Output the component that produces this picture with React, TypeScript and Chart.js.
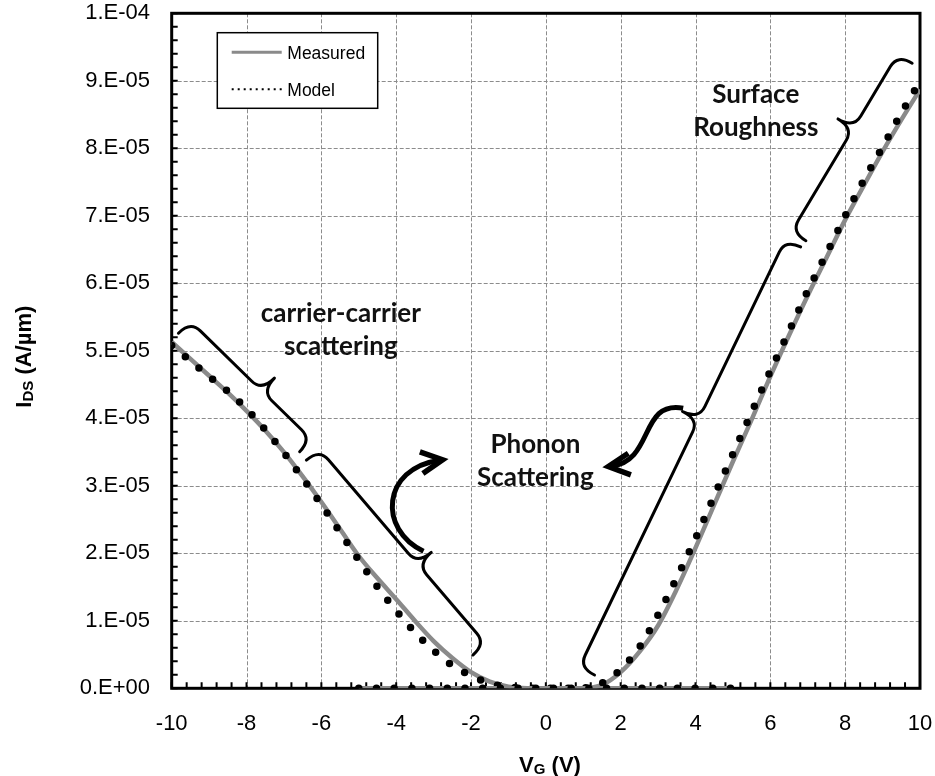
import React, { useEffect, useRef } from 'react';
import { Chart, registerables } from 'chart.js';

Chart.register(...registerables);

// Gate voltage sweep (V)
const VG = [
  -10, -9.5, -9, -8.5, -8, -7.5, -7, -6.5, -6, -5.5,
  -5, -4.5, -4, -3.5, -3, -2.5, -2, -1.5, -1, -0.5,
  0, 0.5, 1, 1.5, 2, 2.5, 3, 3.5, 4, 4.5,
  5, 5.5, 6, 6.5, 7, 7.5, 8, 8.5, 9, 9.5, 10,
];

// Drain current, µA/µm (axis labels are shown in A/µm)
const IDS_MEASURED = [
  51.3, 48.8, 46.3, 43.8, 41.1, 38.2, 35.0, 31.4, 27.6, 23.6,
  19.6, 16.3, 13.2, 10.0, 7.0, 4.5, 2.4, 1.0, 0.25, 0.02,
  0, 0, 0.02, 0.5, 2.4, 5.4, 9.3, 14.7, 20.8, 27.2,
  33.6, 39.8, 46.2, 52.3, 58.2, 63.8, 69.4, 74.5, 79.5, 84.2, 88.7,
];

const IDS_MODEL = [
  50.8, 48.5, 46.2, 44.0, 41.4, 38.3, 34.9, 31.1, 27.2, 23.1,
  19.0, 15.0, 11.5, 8.3, 5.6, 3.4, 1.85, 0.75, 0.2, 0.03,
  0, 0, 0.05, 0.75, 2.8, 6.1, 10.9, 16.4, 22.2, 28.5,
  34.7, 40.9, 47.0, 52.9, 58.9, 64.4, 70.0, 75.3, 80.2, 85.2, 89.9,
];

// Off-state branch lying on the zero line
const VG_FLAT = [-5, 5];
const IDS_FLAT = [0, 0];

// Axis ranges and tick steps
const X_MIN = -10;
const X_MAX = 10;
const X_STEP = 2;
const X_MINOR = 0.4;
const Y_MIN = 0;
const Y_MAX = 100;
const Y_STEP = 10;
const Y_MINOR = 2;

// Legend entries
const LEGEND_ITEMS = ['Measured', 'Model'];

// Annotation braces: ends in (V, µA/µm), tip position as fraction of length
const BRACES = [
  { from: [-9.82, 52.6], to: [-6.58, 35.05], tip: 0.59 },
  { from: [-6.4, 33.8], to: [-1.95, 4.93], tip: 0.59 },
  { from: [1.3, 1.97], to: [6.81, 65.4], tip: 0.58 },
  { from: [6.95, 66.3], to: [9.79, 92.6], tip: 0.585 },
];

// Curved arrows as cubic Bézier control points in (V, µA/µm)
const ARROWS = [
  [[-3.27, 20.3], [-4.49, 23.5], [-4.39, 32.6], [-2.84, 33.8]],
  [[3.67, 41.5], [2.5, 42.7], [2.9, 33.67], [1.75, 32.9]],
];

// Region labels, centred at (V, µA/µm)
const LABELS = [
  { lines: ['carrier-carrier', 'scattering'], at: [-5.48, 53.1] },
  { lines: ['Phonon', 'Scattering'], at: [-0.28, 33.6] },
  { lines: ['Surface', 'Roughness'], at: [5.61, 85.5] },
];

const GRAY = '#8a8a8a';
const GRID = '#8c8c8c';
const AXIS_FONT = '"Liberation Sans", Arial, Helvetica, sans-serif';
const NOTE_FONT = 'Lato, "Open Sans", sans-serif';

const toXY = (xs: number[], ys: number[]) => xs.map((x, i) => ({ x, y: ys[i] }));

// 30 -> "3.E-05", 0 -> "0.E+00"
function sciLabel(v: number): string {
  const a = v * 1e-6;
  if (Math.abs(a) < 1e-12) return '0.E+00';
  const e = Math.floor(Math.log10(a) + 1e-9);
  const m = Math.round(a / Math.pow(10, e));
  return `${m}.E${e < 0 ? '-' : '+'}${String(Math.abs(e)).padStart(2, '0')}`;
}

function drawBrace(ctx: CanvasRenderingContext2D, ax: number, ay: number, bx: number, by: number, frac: number) {
  const L = Math.hypot(bx - ax, by - ay);
  const ux = (bx - ax) / L;
  const uy = (by - ay) / L;
  const nx = uy;
  const ny = -ux;
  const P = (u: number, v: number): [number, number] => [ax + ux * u + nx * v, ay + uy * u + ny * v];
  const h = 17;
  const tipH = 35;
  const r = 14;
  const r2 = 14;
  const m = frac * L;
  ctx.beginPath();
  ctx.moveTo(...P(0, 0));
  ctx.quadraticCurveTo(...P(0, h), ...P(r, h));
  ctx.lineTo(...P(m - r2, h));
  ctx.quadraticCurveTo(...P(m, h), ...P(m, tipH));
  ctx.moveTo(...P(m, tipH));
  ctx.quadraticCurveTo(...P(m, h), ...P(m + r2, h));
  ctx.lineTo(...P(L - r, h));
  ctx.quadraticCurveTo(...P(L, h), ...P(L, 0));
  ctx.stroke();
}

function drawArrow(ctx: CanvasRenderingContext2D, pts: [number, number][]) {
  const [p0, c1, c2, p3] = pts;
  ctx.lineWidth = 5;
  ctx.lineCap = 'butt';
  ctx.beginPath();
  ctx.moveTo(p0[0], p0[1]);
  ctx.bezierCurveTo(c1[0], c1[1], c2[0], c2[1], p3[0], p3[1]);
  ctx.stroke();
  let dx = p3[0] - c2[0];
  let dy = p3[1] - c2[1];
  const d = Math.hypot(dx, dy);
  dx /= d;
  dy /= d;
  const tx = p3[0] + dx * 3;
  const ty = p3[1] + dy * 3;
  const len = 24;
  const ang = 0.47;
  const rot = (a: number): [number, number] => [
    -dx * Math.cos(a) + dy * Math.sin(a),
    -dx * Math.sin(a) - dy * Math.cos(a),
  ];
  const a1 = rot(ang);
  const a2 = rot(-ang);
  ctx.lineWidth = 5.5;
  ctx.lineJoin = 'miter';
  ctx.beginPath();
  ctx.moveTo(tx + a1[0] * len, ty + a1[1] * len);
  ctx.lineTo(tx, ty);
  ctx.lineTo(tx + a2[0] * len, ty + a2[1] * len);
  ctx.stroke();
}

type Part = { t: string; size: number; dy: number };
function richText(ctx: CanvasRenderingContext2D, parts: Part[], cx: number, baseline: number) {
  const widths = parts.map((p) => {
    ctx.font = `bold ${p.size}px ${AXIS_FONT}`;
    return ctx.measureText(p.t).width;
  });
  let x = cx - widths.reduce((s, w) => s + w, 0) / 2;
  parts.forEach((p, i) => {
    ctx.font = `bold ${p.size}px ${AXIS_FONT}`;
    ctx.fillText(p.t, x, baseline + p.dy);
    x += widths[i];
  });
}

const decorations = {
  id: 'decorations',
  beforeDatasetsDraw(chart: any) {
    const { ctx, chartArea: a, scales } = chart;
    const xs = scales.x;
    const ys = scales.y;
    ctx.save();
    // dashed grid
    ctx.strokeStyle = GRID;
    ctx.lineWidth = 1;
    ctx.setLineDash([4, 2]);
    ctx.beginPath();
    xs.ticks.forEach((t: any) => {
      if (t.value > X_MIN && t.value < X_MAX) {
        const p = Math.round(xs.getPixelForValue(t.value)) + 0.5;
        ctx.moveTo(p, a.top);
        ctx.lineTo(p, a.bottom);
      }
    });
    ys.ticks.forEach((t: any) => {
      if (t.value > Y_MIN && t.value < Y_MAX) {
        const p = Math.round(ys.getPixelForValue(t.value)) + 0.5;
        ctx.moveTo(a.left, p);
        ctx.lineTo(a.right, p);
      }
    });
    ctx.stroke();
    ctx.setLineDash([]);
    // inward tick marks
    ctx.strokeStyle = '#000';
    ctx.lineWidth = 2;
    ctx.beginPath();
    const nx = Math.round((X_MAX - X_MIN) / X_MINOR);
    for (let i = 0; i <= nx; i++) {
      const p = xs.getPixelForValue(X_MIN + i * X_MINOR);
      ctx.moveTo(p, a.bottom);
      ctx.lineTo(p, a.bottom - 6);
    }
    const ny = Math.round((Y_MAX - Y_MIN) / Y_MINOR);
    for (let i = 0; i <= ny; i++) {
      const p = ys.getPixelForValue(Y_MIN + i * Y_MINOR);
      ctx.moveTo(a.left, p);
      ctx.lineTo(a.left + 6, p);
    }
    ctx.stroke();
    // plot frame
    ctx.lineWidth = 3;
    ctx.strokeRect(a.left, a.top, a.right - a.left, a.bottom - a.top);
    ctx.restore();
  },
  afterDraw(chart: any) {
    const { ctx, chartArea: a, scales } = chart;
    const xs = scales.x;
    const ys = scales.y;
    const px = (pt: number[]): [number, number] => [xs.getPixelForValue(pt[0]), ys.getPixelForValue(pt[1])];
    ctx.save();
    ctx.strokeStyle = '#000';
    ctx.fillStyle = '#000';

    // braces
    ctx.lineWidth = 3;
    ctx.lineCap = 'round';
    ctx.lineJoin = 'round';
    BRACES.forEach((b) => {
      const [ax, ay] = px(b.from);
      const [bx, by] = px(b.to);
      drawBrace(ctx, ax, ay, bx, by, b.tip);
    });

    // curved arrows
    ARROWS.forEach((arr) => drawArrow(ctx, arr.map(px)));

    // region labels
    ctx.font = `bold 26px ${NOTE_FONT}`;
    ctx.textAlign = 'center';
    ctx.textBaseline = 'middle';
    ctx.fillStyle = '#111';
    LABELS.forEach((l) => {
      const [cx, cy] = px(l.at);
      const gap = 33;
      l.lines.forEach((s, i) => {
        ctx.fillText(s, cx, cy + (i - (l.lines.length - 1) / 2) * gap);
      });
    });

    // legend box
    const lx = a.left + 45.6;
    const ly = a.top + 19.4;
    const lw = 160.4;
    const lh = 75.6;
    ctx.fillStyle = '#fff';
    ctx.fillRect(lx, ly, lw, lh);
    ctx.strokeStyle = '#000';
    ctx.lineWidth = 1.5;
    ctx.strokeRect(lx, ly, lw, lh);
    const rowY = [ly + 19.6, ly + 56.6];
    // measured sample
    ctx.strokeStyle = GRAY;
    ctx.lineWidth = 3;
    ctx.lineCap = 'butt';
    ctx.beginPath();
    ctx.moveTo(lx + 14.4, rowY[0]);
    ctx.lineTo(lx + 64.4, rowY[0]);
    ctx.stroke();
    // model sample
    ctx.strokeStyle = '#000';
    ctx.lineWidth = 2;
    ctx.setLineDash([2, 4]);
    ctx.beginPath();
    ctx.moveTo(lx + 14.4, rowY[1]);
    ctx.lineTo(lx + 64.4, rowY[1]);
    ctx.stroke();
    ctx.setLineDash([]);
    ctx.fillStyle = '#000';
    ctx.font = `17.5px ${AXIS_FONT}`;
    ctx.textAlign = 'left';
    ctx.textBaseline = 'middle';
    LEGEND_ITEMS.forEach((s, i) => ctx.fillText(s, lx + 70, rowY[i] + 1.5));

    // axis titles
    ctx.textAlign = 'left';
    ctx.textBaseline = 'alphabetic';
    richText(
      ctx,
      [
        { t: 'V', size: 22, dy: 0 },
        { t: 'G', size: 15, dy: 2 },
        { t: ' (V)', size: 22, dy: 0 },
      ],
      550,
      771.5
    );
    ctx.save();
    ctx.translate(31, 356.7);
    ctx.rotate(-Math.PI / 2);
    richText(
      ctx,
      [
        { t: 'I', size: 22, dy: 0 },
        { t: 'DS', size: 15, dy: 2 },
        { t: ' (A/µm)', size: 22, dy: 0 },
      ],
      0,
      0
    );
    ctx.restore();
    ctx.restore();
  },
};

export default function App() {
  const ref = useRef<HTMLCanvasElement>(null);

  useEffect(() => {
    if (!ref.current) return;
    const dotted = {
      borderColor: '#000',
      borderWidth: 7.5,
      borderDash: [0, 17.7],
      borderCapStyle: 'round' as const,
      pointRadius: 0,
      fill: false,
      cubicInterpolationMode: 'monotone' as const,
    };
    const solid = {
      borderColor: GRAY,
      borderWidth: 4.5,
      borderCapStyle: 'butt' as const,
      borderJoinStyle: 'round' as const,
      pointRadius: 0,
      fill: false,
      cubicInterpolationMode: 'monotone' as const,
    };
    const chart = new Chart(ref.current, {
      type: 'line',
      data: {
        datasets: [
          { label: 'Measured', data: toXY(VG, IDS_MEASURED), ...solid, order: 4 },
          { label: 'Model', data: toXY(VG, IDS_MODEL), ...dotted, order: 3 },
          { label: 'Measured', data: toXY(VG_FLAT, IDS_FLAT), ...solid, order: 2 },
          { label: 'Model', data: toXY(VG_FLAT, IDS_FLAT), ...dotted, order: 1, clip: 0 },
        ],
      },
      options: {
        responsive: false,
        animation: false,
        devicePixelRatio: 1,
        events: [],
        layout: { padding: { top: 13.3, right: 15, left: 0, bottom: 0 } },
        plugins: { legend: { display: false }, tooltip: { enabled: false } },
        scales: {
          x: {
            type: 'linear',
            min: X_MIN,
            max: X_MAX,
            ticks: {
              stepSize: X_STEP,
              padding: 22.5,
              color: '#000',
              maxRotation: 0,
              autoSkip: false,
              font: { family: AXIS_FONT, size: 22 },
            },
            grid: { display: false, drawTicks: false },
            border: { display: false },
            afterFit: (s: any) => {
              s.height = 87.7;
              s.paddingLeft = 0;
              s.paddingRight = 0;
            },
          },
          y: {
            type: 'linear',
            min: Y_MIN,
            max: Y_MAX,
            ticks: {
              stepSize: Y_STEP,
              padding: 21.7,
              color: '#000',
              autoSkip: false,
              font: { family: AXIS_FONT, size: 22 },
              callback: (v: any) => sciLabel(Number(v)),
            },
            grid: { display: false, drawTicks: false },
            border: { display: false },
            afterFit: (s: any) => {
              s.width = 171.7;
              s.paddingTop = 0;
              s.paddingBottom = 0;
            },
          },
        },
      },
      plugins: [decorations],
    });
    return () => chart.destroy();
  }, []);

  return (
    <div style={{ position: 'fixed', left: 0, top: 0, width: 935, height: 776, background: '#fff' }}>
      <canvas ref={ref} width={935} height={776} style={{ display: 'block', width: 935, height: 776 }} />
    </div>
  );
}
